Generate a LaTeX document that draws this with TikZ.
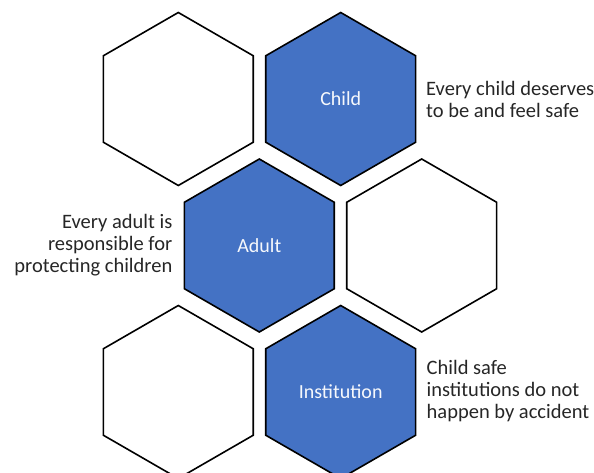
\documentclass[tikz,border=0pt]{standalone}
\usepackage{fontspec}
\setmainfont{Carlito}
\usepackage{tikz}
\usetikzlibrary{shapes.geometric, positioning}
\definecolor{hexblue}{HTML}{4472C4}
\definecolor{textgray}{HTML}{262626}
\tikzset{
	every node/.style={
		align=center,
	},
}
\tikzstyle{every hex} = [draw=black, line width=1.6pt, regular polygon, regular polygon sides=6, shape border rotate=30, minimum size=173pt, inner sep=0pt]
\tikzstyle{blue hex} = [every hex, fill=hexblue, text=white!95!hexblue, font=\fontsize{20}{22}\selectfont]
\tikzstyle{empty hex} = [every hex, fill=white]
\tikzstyle{caption} = [text=textgray, inner sep=0pt, font=\fontsize{20.5}{22}\selectfont]

\begin{document}
\begin{tikzpicture}[x=1pt, y=-1pt]
		\useasboundingbox (0,0) rectangle (594,473);
		\clip (0,0) rectangle (594,473);
		
		\coordinate (c-11) at (178.3,99);
		\coordinate (c-12) at (340.7,99);
		\coordinate (c-21) at (259.3,245.5);
		\coordinate (c-22) at (421.7,245.5);
		\coordinate (c-31) at (178.3,392);
		\coordinate (c-32) at (340.7,392);
		
		\node[empty hex] (hex-11) at (c-11) {};
		\node[blue hex] (child) at (c-12) {Child};
		\node[blue hex] (adult) at (c-21) {Adult};
		\node[empty hex] (hex-22) at (c-22) {};
		\node[empty hex] (hex-31) at (c-31) {};
		\node[blue hex] (institution) at (c-32) {Institution};
		
		% the statements beside the filled cells
		\node[caption, align = left, anchor = west] (child-txt) at (426,99) {Every child deserves \\ to be and feel safe};
		\node[caption, align = right, anchor = east] (adult-txt) at (172.5,245) {Every adult is \\ responsible for \\ protecting children};
		\node[caption, align = left, anchor = west] (inst-txt) at (426.5,391.5) {Child safe \\ institutions do not \\ happen by accident};
		
	\end{tikzpicture}
\end{document}
